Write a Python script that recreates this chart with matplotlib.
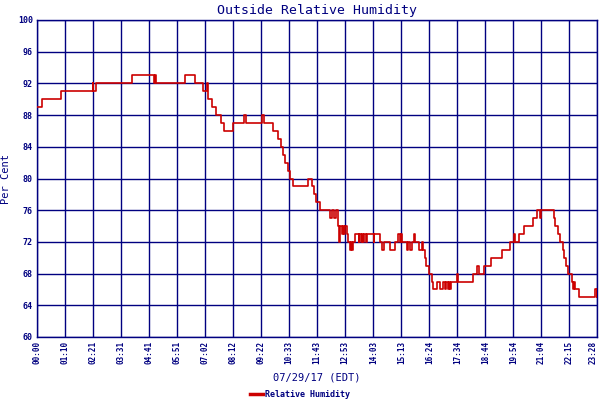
import matplotlib
matplotlib.use("Agg")
import matplotlib.pyplot as plt
from matplotlib.lines import Line2D

# step change points: minutes after midnight, relative humidity (%)
minutes = [0, 13, 60, 140, 141, 147, 239, 294, 297, 299, 372, 397, 417, 426, 429, 430,
           440, 450, 463, 471, 493, 520, 525, 566, 571, 593, 606, 614, 619, 624, 631,
           636, 643, 682, 690, 695, 701, 712, 735, 741, 747, 752, 756, 758, 761, 762,
           766, 768, 772, 774, 779, 782, 787, 790, 792, 795, 800, 808, 810, 815, 817,
           820, 822, 827, 830, 846, 847, 862, 867, 872, 888, 900, 908, 913, 915, 918,
           930, 931, 938, 943, 946, 949, 959, 967, 971, 975, 978, 986, 992, 996, 1005,
           1013, 1021, 1026, 1028, 1033, 1034, 1038, 1041, 1054, 1058, 1095, 1106,
           1110, 1122, 1141, 1168, 1189, 1199, 1202, 1210, 1223, 1245, 1256, 1263,
           1265, 1298, 1302, 1308, 1315, 1321, 1323, 1330, 1334, 1343, 1347, 1349,
           1351, 1361, 1403, 1406, 1407, 1408]
humidity = [89, 90, 91, 92, 91, 92, 93, 92, 93, 92, 93, 92, 91, 92, 91, 90,
            89, 88, 87, 86, 87, 88, 87, 88, 87, 86, 85, 84, 83, 82, 81,
            80, 79, 80, 79, 78, 77, 76, 75, 76, 75, 76, 74, 72, 73, 74,
            73, 74, 73, 74, 73, 72, 71, 72, 71, 72, 73, 72, 73, 72, 73,
            72, 73, 72, 73, 72, 73, 72, 71, 72, 71, 72, 73, 72, 73, 72,
            71, 72, 71, 72, 73, 72, 71, 72, 71, 70, 69, 68, 67, 66, 67,
            66, 67, 66, 67, 66, 67, 66, 67, 68, 67, 68, 69,
            68, 69, 70, 71, 72, 73, 72, 73, 74, 75, 76, 75,
            76, 75, 74, 73, 72, 71, 70, 69, 68, 67, 66, 67,
            66, 65, 66, 65, 66, 66]

tick_labels = ["00:00", "01:10", "02:21", "03:31", "04:41", "05:51", "07:02",
               "08:12", "09:22", "10:33", "11:43", "12:53", "14:03", "15:13",
               "16:24", "17:34", "18:44", "19:54", "21:04", "22:15", "23:28"]
y_ticks = [60, 64, 68, 72, 76, 80, 84, 88, 92, 96, 100]

navy = "#000080"
red = "#CC0000"
mono = "DejaVu Sans Mono"

fig = plt.figure(figsize=(6, 4), dpi=100)
ax = fig.add_axes([0.0617, 0.1575, 0.934, 0.7925])

ax.step(minutes, humidity, where="post", color=red, lw=1.2, zorder=3)

step = 1408 / 20
xt = [i * step for i in range(len(tick_labels))]
ax.set_xlim(0, 1408)
ax.set_ylim(60, 100)
ax.set_xticks(xt)
ax.set_xticklabels(tick_labels, rotation=90, fontsize=5.5, fontweight="bold",
                   family=mono, color=navy)
ax.get_xticklabels()[-1].set_horizontalalignment("right")
ax.set_yticks(y_ticks)
ax.set_yticklabels([str(v) for v in y_ticks], fontsize=6, fontweight="bold",
                   family=mono, color=navy)
ax.tick_params(length=0, pad=3)
ax.grid(True, color=navy, lw=1.0, zorder=1)
for s in ax.spines.values():
    s.set_color(navy)
    s.set_linewidth(1.0)

ax.set_title("Outside Relative Humidity", fontsize=9.5, family=mono, color=navy, pad=4)
ax.set_ylabel("Per Cent", fontsize=7.5, family=mono, color=navy, labelpad=5)
fig.text(0.528, 0.055, "07/29/17 (EDT)", ha="center", va="center", fontsize=7.5,
         family=mono, color=navy)

handle = Line2D([], [], color=red, lw=2.5)
leg = fig.legend([handle], ["Relative Humidity"], loc="center", bbox_to_anchor=(0.5, 0.013),
                 frameon=False, handlelength=1.6, handletextpad=0.3,
                 prop={"family": mono, "size": 6, "weight": "bold"})
for t in leg.get_texts():
    t.set_color(navy)

fig.savefig("out.png", dpi=100)
